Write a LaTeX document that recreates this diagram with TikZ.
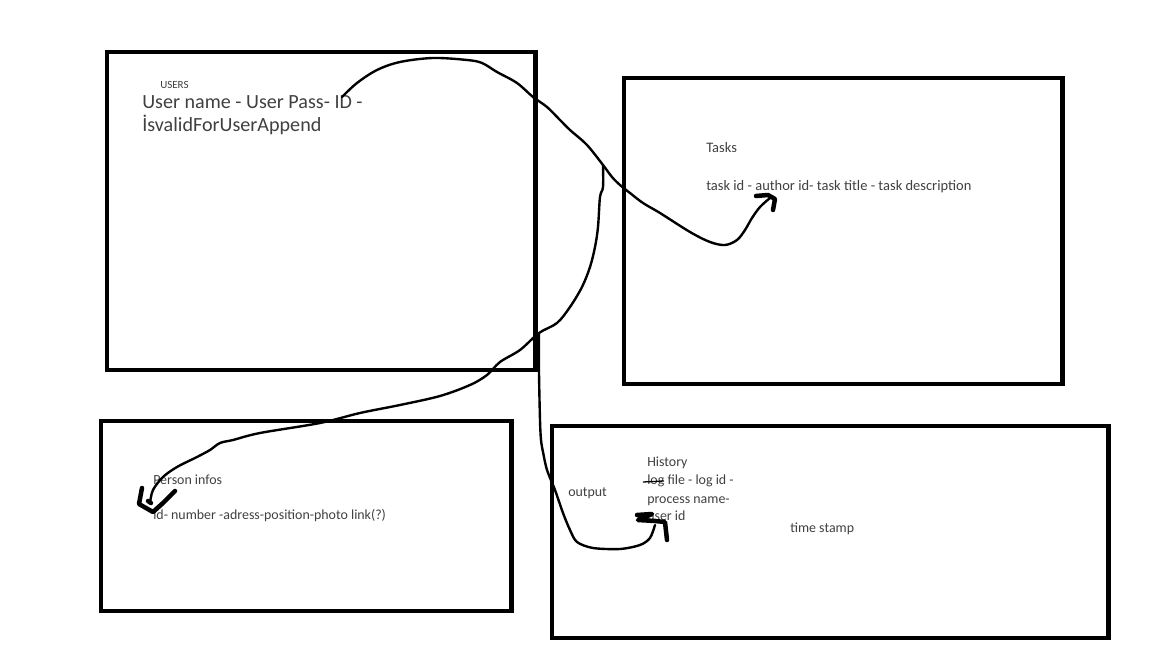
\documentclass[tikz,border=0pt]{standalone}
\usepackage{xcolor}
\usepackage{fontspec}
\setmainfont{Carlito}
\usepackage{tikz}
\usetikzlibrary{positioning, calc}
\definecolor{ink}{HTML}{000000}
\definecolor{txt}{HTML}{404040}
\tikzstyle{table} = [rectangle, draw=ink, line width=3.4pt, outer sep=0pt,
                     inner sep=0pt, anchor=north west]
\tikzstyle{lbl}   = [anchor=base west, inner sep=0pt, text=txt]
\tikzstyle{pen}   = [draw=ink, line width=1.7pt, line cap=round, line join=round]
\tikzstyle{tip}   = [draw=ink, line width=3.2pt, line cap=round, line join=round]

\begin{document}
\begin{tikzpicture}[x=0.025cm, y=-0.025cm]
  \useasboundingbox (0,0) rectangle (1152,648);

  %% tables
  \node[table, minimum width=10.7cm, minimum height=7.95cm] (users) at (107,52) {};
  \node[table, minimum width=10.95cm, minimum height=7.65cm] (tasks) at (624,78) {};
  \node[table, minimum width=10.25cm, minimum height=4.75cm] (person) at (101,421) {};
  \node[table, minimum width=13.9cm, minimum height=5.3cm] (history) at (552,426) {};

  %% users fields
  \node[lbl, font=\fontsize{7.8}{9}\selectfont] (usrtitle) at (160,89) {USERS};
  \node[lbl, font=\fontsize{14.3}{16}\selectfont] (usrline1) at (142,109) {User name - User Pass- ID -};
  \node[lbl, font=\fontsize{14.3}{16}\selectfont] (usrline2) at (142,132) {İsvalidForUserAppend};

  %% tasks fields
  \node[lbl, font=\fontsize{10.3}{12}\selectfont] (tsktitle) at (706,153) {Tasks};
  \node[lbl, font=\fontsize{10.3}{12}\selectfont] (tskline) at (706,191) {task id - author id- task title - task description};

  %% person fields
  \node[lbl, font=\fontsize{9.9}{12}\selectfont] (pertitle) at (153,485) {Person infos};
  \node[lbl, font=\fontsize{9.9}{12}\selectfont] (perline) at (153,520) {id- number -adress-position-photo link(?)};

  %% history fields
  \node[lbl, font=\fontsize{9.9}{12}\selectfont] (histitle) at (647,467) {History};
  \node[lbl, font=\fontsize{9.9}{12}\selectfont] (hisline1) at (647,485) {log file - log id -};
  \node[lbl, font=\fontsize{9.9}{12}\selectfont] (hisline2) at (647,503) {process name-};
  \node[lbl, font=\fontsize{9.9}{12}\selectfont] (hisline3) at (647,521) {user id};
  \node[lbl, font=\fontsize{9.9}{12}\selectfont] (histime) at (790,533) {time stamp};
  \node[lbl, font=\fontsize{9.9}{12}\selectfont] (output) at (568,497) {output};
  \draw[ink, line width=0.9pt] (hisline1.base west) ++(-4,-3) coordinate (strikeA) -- ++(21,-1) coordinate (strikeB);

  %% connector points
  \coordinate (usrstart) at (342,97);
  \coordinate (fork) at (603,165);
  \coordinate (fork2) at (539,333);
  \coordinate (tskend) at (770,198);
  \coordinate (perend) at (150,503);
  \coordinate (hisend) at (655,525);

  %% users -> tasks
  \draw[pen] plot[smooth, tension=0.55] coordinates {(usrstart) (357,83) (377,70) (400,62)
    (433,58) (467,60) (482,63) (497,72) (517,83) (533,97) (547,107) (560,120)
    (570,130) (587,145) (fork) (612,177) (620,185) (630,193) (643,203) (660,213)
    (690,232) (710,242) (725,245) (737,240) (745,230) (752,218) (760,207) (tskend)};
  \draw[tip] (756,196) -- (768,195) -- (775,199) -- (773,210);

  %% fork -> person infos
  \draw[pen] plot[smooth, tension=0.55] coordinates {(fork) (603,187) (600,197) (598,227)
    (595,247) (590,267) (582,287) (570,307) (557,323) (fork2) (520,350) (500,362)
    (487,375) (470,385) (440,396) (400,405) (360,413) (320,423) (260,433) (233,440)
    (220,443) (210,450) (197,457) (177,467) (163,477) (153,490) (perend)};
  \draw[tip] (142,488) -- (139,504) -- (153,512) -- (163,503) -- (175,491);
  \draw[tip] (148,501) -- (151,503);

  %% fork -> history
  \draw[pen] plot[smooth, tension=0.5] coordinates {(fork2) (539,372) (540,420) (541,440)
    (543,452) (547,470) (555,490) (563,513) (570,530) (577,542) (593,548) (620,549)
    (640,545) (650,538) (hisend)};
  \draw[tip] (637,515) -- (652,514) -- (638,520) -- (655,521) -- (665,522) -- (667,540);

\end{tikzpicture}
\end{document}
